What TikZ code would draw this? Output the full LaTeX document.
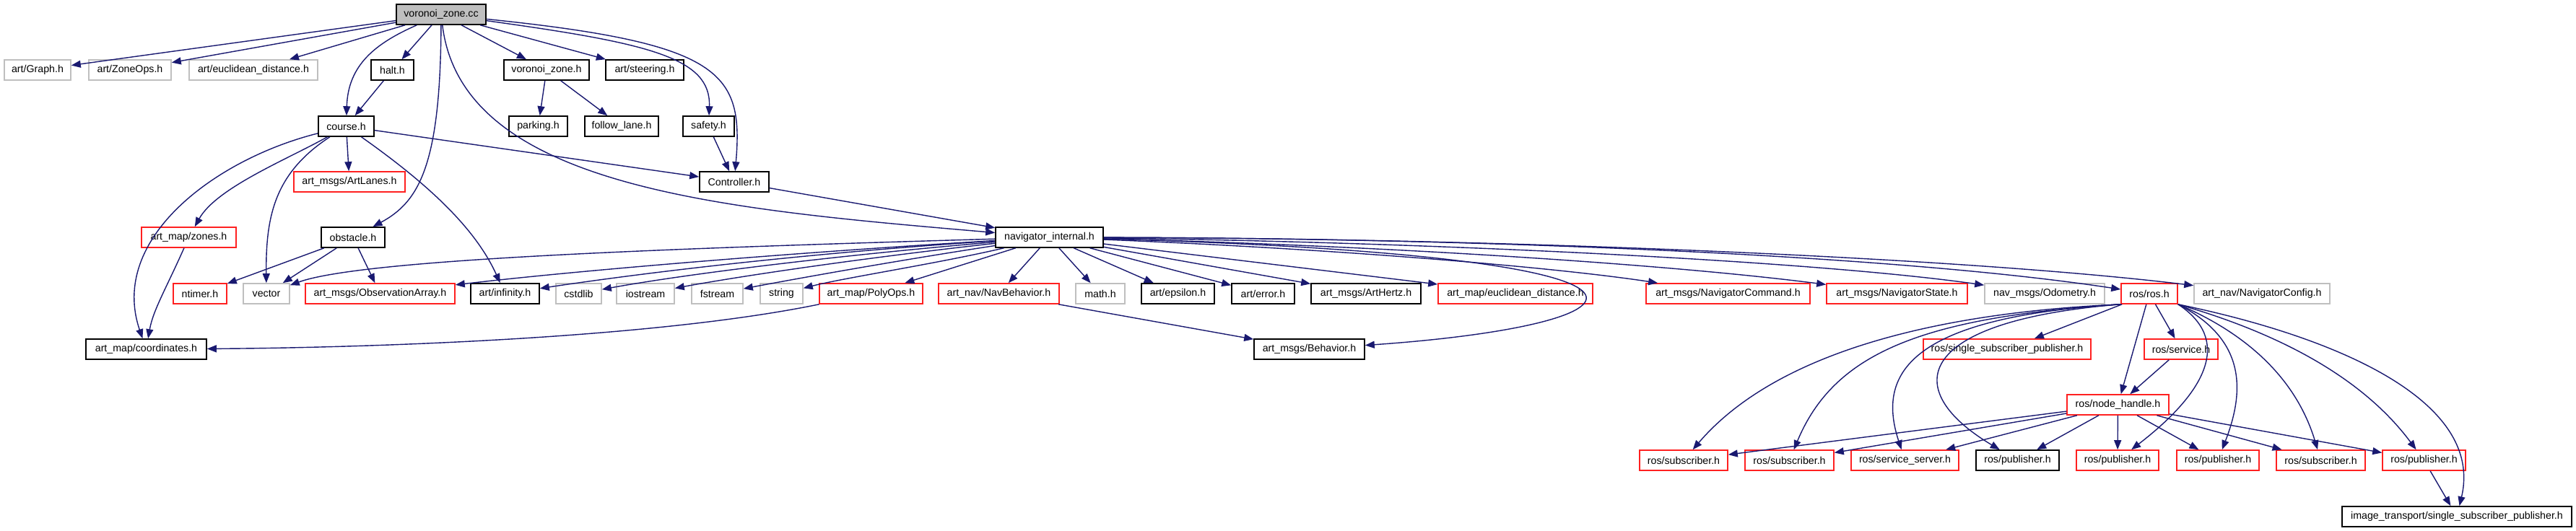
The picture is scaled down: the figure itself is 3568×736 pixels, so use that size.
\documentclass[tikz,border=0pt]{standalone}
\usepackage{fontspec}
\setmainfont{Liberation Sans}
\usetikzlibrary{arrows.meta}
\definecolor{edgec}{HTML}{191970}
\definecolor{grayc}{HTML}{BFBFBF}
\definecolor{redc}{HTML}{FF2020}
\begin{document}
\begin{tikzpicture}[x=1pt,y=-1pt,
  box/.style={minimum height=28pt, inner sep=0pt, font=\fontsize{14.2}{17}\selectfont, anchor=center},
  blk/.style={box, draw=black, line width=1.6pt},
  rbox/.style={box, draw=redc, line width=1.6pt},
  gbox/.style={box, draw=grayc, line width=1.6pt},
  e/.style={draw=edgec, line width=1.4pt, -{Triangle[length=13pt,width=10pt]}},
]
\useasboundingbox (0,0) rectangle (3568,736);
% row 0
\node[blk, fill=grayc, minimum width=124pt] (cc) at (611,20) {voronoi\_zone.cc};
% row 1
\node[gbox, minimum width=92pt] (graph) at (52,97) {art/Graph.h};
\node[gbox, minimum width=114pt] (zoneops) at (180,97) {art/ZoneOps.h};
\node[gbox, minimum width=178pt] (euclidA) at (351,97) {art/euclidean\_distance.h};
\node[blk, minimum width=59pt] (halt) at (543.5,97) {halt.h};
\node[blk, minimum width=118pt] (vzh) at (757,97) {voronoi\_zone.h};
\node[blk, minimum width=108pt] (steer) at (893,97) {art/steering.h};
% row 2
\node[blk, minimum width=77pt] (course) at (479.5,175) {course.h};
\node[blk, minimum width=81pt] (parking) at (745.5,175) {parking.h};
\node[blk, minimum width=102pt] (follow) at (861,175) {follow\_lane.h};
\node[blk, minimum width=71pt] (safety) at (981.5,175) {safety.h};
% row 3
\node[rbox, minimum width=154pt] (artlanes) at (484,252) {art\_msgs/ArtLanes.h};
\node[blk, minimum width=96pt] (ctrl) at (1017,252) {Controller.h};
% row 4
\node[rbox, minimum width=131pt] (zones) at (261.5,329) {art\_map/zones.h};
\node[blk, minimum width=88pt] (obst) at (489,329) {obstacle.h};
\node[blk, minimum width=149pt] (navint) at (1453.5,329) {navigator\_internal.h};
% row 5
\node[rbox, minimum width=74pt] (ntimer) at (277,407) {ntimer.h};
\node[gbox, minimum width=64pt] (vector) at (369,407) {vector};
\node[rbox, minimum width=207pt] (obsarr) at (526.5,407) {art\_msgs/ObservationArray.h};
\node[blk, minimum width=95pt] (infin) at (699.5,407) {art/infinity.h};
\node[gbox, minimum width=63pt] (cstdlib) at (801.5,407) {cstdlib};
\node[gbox, minimum width=80pt] (iostream) at (894,407) {iostream};
\node[gbox, minimum width=71pt] (fstream) at (993.5,407) {fstream};
\node[gbox, minimum width=59pt] (string) at (1082.5,407) {string};
\node[rbox, minimum width=143pt] (polyops) at (1206.5,407) {art\_map/PolyOps.h};
\node[rbox, minimum width=167pt] (navbeh) at (1383.5,407) {art\_nav/NavBehavior.h};
\node[gbox, minimum width=68pt] (math) at (1524,407) {math.h};
\node[blk, minimum width=101pt] (eps) at (1631.5,407) {art/epsilon.h};
\node[blk, minimum width=87pt] (err) at (1749.5,407) {art/error.h};
\node[blk, minimum width=152pt] (hertz) at (1892,407) {art\_msgs/ArtHertz.h};
\node[rbox, minimum width=214pt] (euclidB) at (2099,407) {art\_map/euclidean\_distance.h};
\node[rbox, minimum width=227pt] (navcmd) at (2393.5,407) {art\_msgs/NavigatorCommand.h};
\node[rbox, minimum width=195pt] (navstate) at (2627.5,407) {art\_msgs/NavigatorState.h};
\node[gbox, minimum width=166pt] (odom) at (2832,407) {nav\_msgs/Odometry.h};
\node[rbox, minimum width=78pt] (rosh) at (2977,407) {ros/ros.h};
\node[gbox, minimum width=188pt] (navcfg) at (3133,407) {art\_nav/NavigatorConfig.h};
% row 6
\node[blk, minimum width=167pt] (coords) at (202.5,484) {art\_map/coordinates.h};
\node[blk, minimum width=153pt] (behav) at (1813.5,484) {art\_msgs/Behavior.h};
\node[rbox, minimum width=232pt] (ssp) at (2780,484) {ros/single\_subscriber\_publisher.h};
\node[rbox, minimum width=102pt] (service) at (3021,484) {ros/service.h};
% row 7
\node[rbox, minimum width=141pt] (nh) at (2933.5,561) {ros/node\_handle.h};
% row 8
\node[rbox, minimum width=122pt] (subA) at (2332,638) {ros/subscriber.h};
\node[rbox, minimum width=123pt] (subB) at (2478.5,638) {ros/subscriber.h};
\node[rbox, minimum width=149pt] (srvsrv) at (2638.5,638) {ros/service\_server.h};
\node[blk, minimum width=115pt] (pubA) at (2794.5,638) {ros/publisher.h};
\node[rbox, minimum width=114pt] (pubB) at (2933,638) {ros/publisher.h};
\node[rbox, minimum width=114pt] (pubC) at (3072,638) {ros/publisher.h};
\node[rbox, minimum width=123pt] (subC) at (3214.5,638) {ros/subscriber.h};
\node[rbox, minimum width=115pt] (pubD) at (3357.5,638) {ros/publisher.h};
% row 9
\node[blk, minimum width=318pt] (img) at (3403,716) {image\_transport/single\_subscriber\_publisher.h};

% edges from voronoi_zone.cc
\draw[e] (cc) -- (graph);
\draw[e] (cc) -- (zoneops);
\draw[e] (cc) -- (euclidA);
\draw[e] (cc) .. controls (520,60) and (482,90) .. (course);
\draw[e] (cc) -- (halt);
\draw[e] (cc) .. controls (610,230) and (580,280) .. (obst);
\draw[e] (cc) .. controls (640,260) and (1000,290) .. (navint);
\draw[e] (cc) -- (vzh);
\draw[e] (cc) -- (steer);
\draw[e] (cc) .. controls (900,60) and (985,80) .. (safety);
\draw[e] (cc) .. controls (1000,60) and (1030,100) .. (ctrl);
% second level
\draw[e] (halt) -- (course);
\draw[e] (vzh) -- (parking);
\draw[e] (vzh) -- (follow);
\draw[e] (safety) -- (ctrl);
\draw[e] (course) .. controls (300,220) and (150,330) .. (coords);
\draw[e] (course) .. controls (400,220) and (300,260) .. (zones);
\draw[e] (course) .. controls (380,240) and (368,300) .. (vector);
\draw[e] (course) -- (artlanes);
\draw[e] (course) .. controls (600,260) and (660,320) .. (infin);
\draw[e] (course) -- (ctrl);
\draw[e] (ctrl) -- (navint);
\draw[e] (obst) -- (ntimer);
\draw[e] (obst) -- (vector);
\draw[e] (obst) -- (obsarr);
\draw[e] (zones) .. controls (230,400) and (212,430) .. (coords);
% navigator_internal.h
\draw[e] (navint) .. controls (900,345) and (500,360) .. (vector);
\draw[e] (navint) .. controls (1100,350) and (800,375) .. (obsarr);
\draw[e] (navint) .. controls (1100,352) and (880,380) .. (infin);
\draw[e] (navint) .. controls (1150,355) and (950,380) .. (cstdlib);
\draw[e] (navint) .. controls (1200,357) and (1030,382) .. (iostream);
\draw[e] (navint) .. controls (1250,360) and (1110,385) .. (fstream);
\draw[e] (navint) .. controls (1300,365) and (1170,385) .. (string);
\draw[e] (navint) -- (polyops);
\draw[e] (navint) -- (navbeh);
\draw[e] (navint) -- (math);
\draw[e] (navint) -- (eps);
\draw[e] (navint) -- (err);
\draw[e] (navint) -- (hertz);
\draw[e] (navint) -- (euclidB);
\draw[e] (navint) .. controls (1850,345) and (2150,370) .. (navcmd);
\draw[e] (navint) .. controls (1900,340) and (2300,365) .. (navstate);
\draw[e] (navint) .. controls (1950,335) and (2500,360) .. (odom);
\draw[e] (navint) .. controls (2000,330) and (2600,350) .. (rosh);
\draw[e] (navint) .. controls (2050,330) and (2700,355) .. (navcfg);
\draw[e] (navint) .. controls (2400,355) and (2300,450) .. (behav);
\draw[e] (polyops) .. controls (900,470) and (500,482) .. (coords);
\draw[e] (navbeh) -- (behav);
% ros/ros.h
\draw[e] (rosh) -- (ssp);
\draw[e] (rosh) -- (nh);
\draw[e] (rosh) -- (service);
\draw[e] (rosh.south west) .. controls (2650,435) and (2450,500) .. (subA);
\draw[e] (rosh.south west) .. controls (2660,440) and (2540,490) .. (subB);
\draw[e] (rosh.south west) .. controls (2640,440) and (2600,520) .. (srvsrv);
\draw[e] (rosh.south west) .. controls (2650,445) and (2630,540) .. (pubA);
\draw[e] (rosh.south east) .. controls (3090,470) and (3060,540) .. (pubB);
\draw[e] (rosh.south east) .. controls (3110,470) and (3110,540) .. (pubC);
\draw[e] (rosh.south east) .. controls (3130,470) and (3185,540) .. (subC);
\draw[e] (rosh.south east) .. controls (3150,460) and (3270,520) .. (pubD);
\draw[e] (rosh.south east) .. controls (3250,470) and (3440,560) .. (img);
\draw[e] (service) -- (nh);
% node_handle.h
\draw[e] (nh) -- (subA);
\draw[e] (nh) -- (subB);
\draw[e] (nh) -- (srvsrv);
\draw[e] (nh) -- (pubA);
\draw[e] (nh) -- (pubB);
\draw[e] (nh) -- (pubC);
\draw[e] (nh) -- (subC);
\draw[e] (nh) -- (pubD);
\draw[e] (pubD) -- (img);
\end{tikzpicture}
\end{document}
